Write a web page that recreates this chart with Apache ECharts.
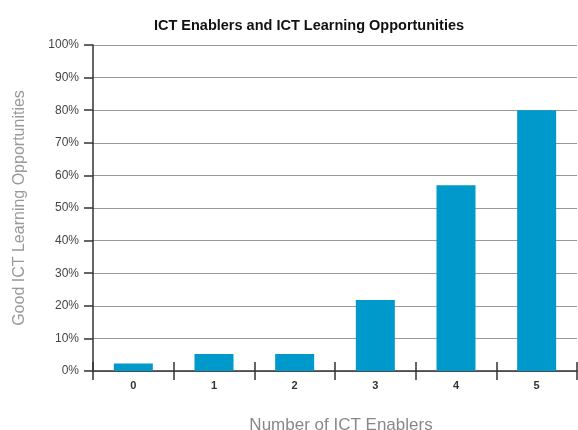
<!DOCTYPE html>
<html><head><meta charset="utf-8">
<script src="https://cdn.jsdelivr.net/npm/echarts@6/dist/echarts.min.js"></script>
<style>html,body{margin:0;padding:0;background:#fff}#c{width:578px;height:430px}</style>
</head><body><div id="c"></div>
<script>
const categories = ['0','1','2','3','4','5'];
const values = [2.3, 5.2, 5.2, 21.8, 57, 80];
const yTicks = [0,10,20,30,40,50,60,70,80,90,100];

const chart = echarts.init(document.getElementById('c'));
const font = 'Liberation Sans, Arial, sans-serif';
chart.setOption({
  animation: false,
  title: {
    text: 'ICT Enablers and ICT Learning Opportunities',
    left: 304, top: 13, textAlign: 'center',
    textStyle: {fontFamily: font, fontSize: 14.5, fontWeight: 'bold', color: '#111'}
  },
  grid: {left: 93, right: 1, top: 45, bottom: 59, outerBoundsMode: 'none', containLabel: false},
  xAxis: [{
    type: 'category', data: categories,
    name: 'Number of ICT Enablers', nameLocation: 'middle', nameGap: 46,
    nameTextStyle: {fontFamily: font, fontSize: 17, color: '#888', padding: [0, 0, 0, 12]},
    axisLine: {lineStyle: {color: '#333', width: 1.5}},
    axisTick: {show: true, inside: false, length: 9, lineStyle: {color: '#333', width: 1.5}},
    axisLabel: {fontFamily: font, fontSize: 11, fontWeight: 'bold', color: '#333', margin: 9}
  }, {
    type: 'category', data: categories, position: 'bottom',
    axisLine: {show: false},
    axisTick: {show: true, inside: true, length: 9, lineStyle: {color: '#333', width: 1.5}},
    axisLabel: {show: false}
  }],
  yAxis: {
    type: 'value', min: 0, max: 100, interval: 10,
    name: 'Good ICT Learning Opportunities', nameLocation: 'middle', nameGap: 65,
    nameTextStyle: {fontFamily: font, fontSize: 16, color: '#999'},
    axisLine: {show: true, lineStyle: {color: '#333', width: 1.5}},
    axisTick: {show: true, length: 9, lineStyle: {color: '#333', width: 1.5}},
    axisLabel: {fontFamily: font, fontSize: 12, color: '#444', margin: 14,
      formatter: v => yTicks.includes(v) ? v + '%' : ''},
    splitLine: {show: true, lineStyle: {color: '#999', width: 1}}
  },
  series: [{
    type: 'bar', data: values, xAxisIndex: 0, barWidth: 39,
    itemStyle: {color: '#0099CC'}
  }]
});
</script></body></html>
